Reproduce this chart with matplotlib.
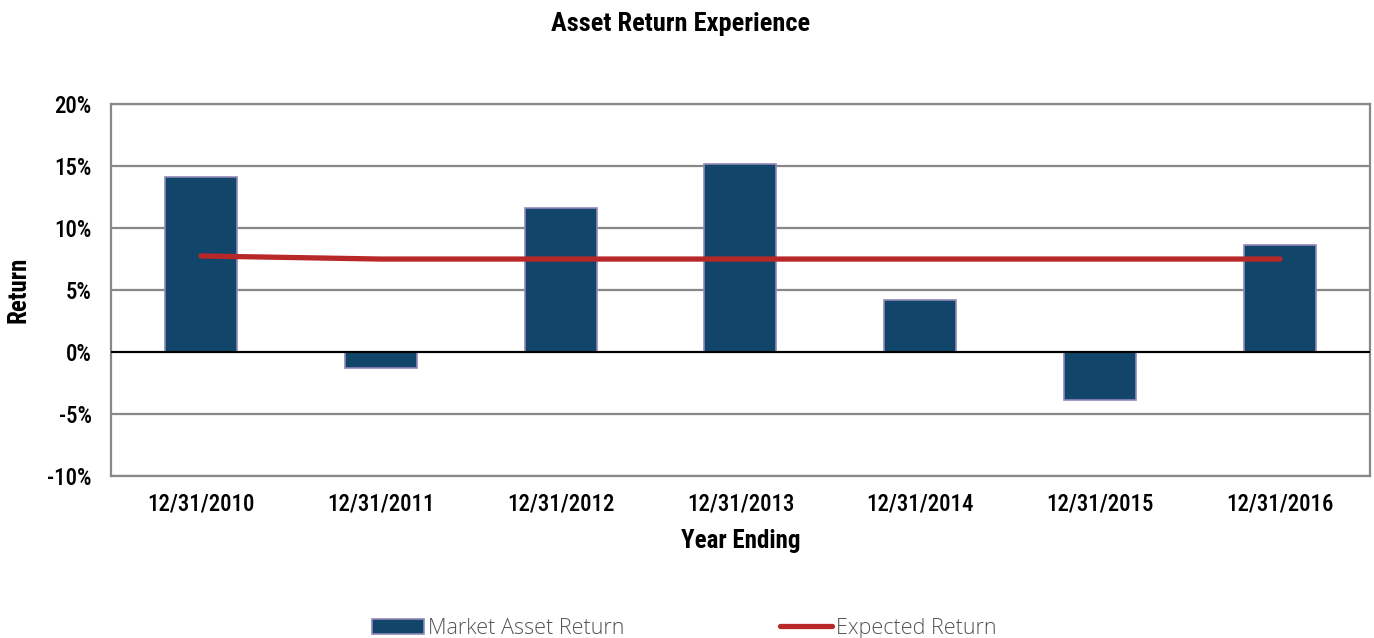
import matplotlib
matplotlib.use("Agg")
import matplotlib.pyplot as plt
import numpy as np
from matplotlib.lines import Line2D
from matplotlib.patches import Patch
from matplotlib.ticker import FuncFormatter
from matplotlib.font_manager import FontProperties

categories = ["12/31/2010", "12/31/2011", "12/31/2012", "12/31/2013", "12/31/2014", "12/31/2015", "12/31/2016"]
market_return = [14.1, -1.3, 11.6, 15.2, 4.2, -3.9, 8.6]
expected_return = [7.75, 7.5, 7.5, 7.5, 7.5, 7.5, 7.5]
yticks = [-10, -5, 0, 5, 10, 15, 20]

narrow_bold = ["Roboto Condensed", "DejaVu Sans"]
tick_font = ["Roboto Condensed", "DejaVu Sans"]

fig = plt.figure(figsize=(13.74, 6.38), dpi=100)
ax = fig.add_axes([0.0808, 0.2544, 0.9162, 0.5821])

x = np.arange(len(categories))
ax.bar(x, market_return, width=0.4, color="#11466a", edgecolor="#9088b8", linewidth=1.2, zorder=3)
ax.plot(x, expected_return, color="#b82828", linewidth=3.8, solid_capstyle="round", zorder=4)
ax.axhline(0, color="black", linewidth=1.5, zorder=5)

ax.set_xlim(-0.5, len(categories) - 0.5)
ax.set_ylim(-10, 20)
ax.set_yticks(yticks)
ax.yaxis.set_major_formatter(FuncFormatter(lambda v, p: f"{int(v)}%"))
ax.set_xticks(x)
ax.set_xticklabels(categories)
ax.tick_params(axis="both", length=0, labelsize=16.5)
ax.tick_params(axis="x", pad=12)
ax.tick_params(axis="y", pad=14)
for lab in ax.get_xticklabels() + ax.get_yticklabels():
    lab.set_family(tick_font)
    lab.set_fontweight(500)
ax.grid(axis="y", color="#888888", linewidth=1.6, zorder=0)
for s in ax.spines.values():
    s.set_color("#888888")
    s.set_linewidth(1.6)

ax.set_ylabel("Return", fontsize=18, fontweight="bold", family=narrow_bold, labelpad=12)
ax.set_xlabel("Year Ending", fontsize=18, fontweight="bold", family=narrow_bold, labelpad=10)
fig.text(0.495, 0.962, "Asset Return Experience", ha="center", va="center",
         fontsize=19, fontweight="bold", family=narrow_bold)

legend_prop = FontProperties(family=["Open Sans", "DejaVu Sans"], weight=300, stretch="normal", size=15.5)
handles = [Patch(facecolor="#11466a", edgecolor="#9088b8", linewidth=1.2),
           Line2D([0], [0], color="#b82828", linewidth=3.8, solid_capstyle="round")]
leg = fig.legend(handles, ["Market Asset Return", "Expected Return"], loc="center",
                 bbox_to_anchor=(0.498, 0.015), ncol=2, frameon=False,
                 prop=legend_prop, columnspacing=7.2,
                 handlelength=2.43, handletextpad=0.2)
for t in leg.get_texts():
    t.set_color("#555555")

fig.savefig("out.png", dpi=100)
